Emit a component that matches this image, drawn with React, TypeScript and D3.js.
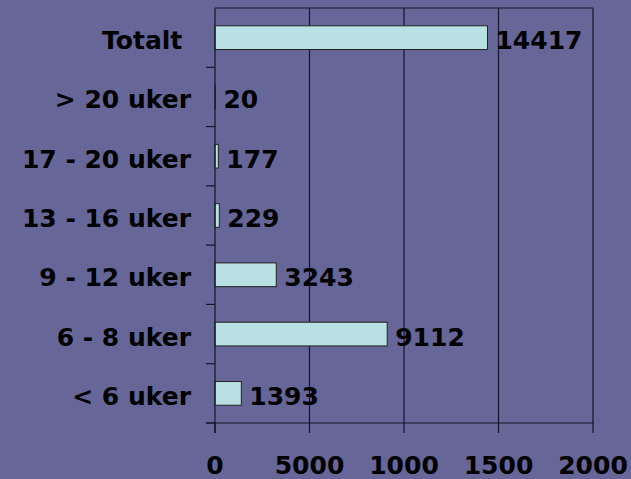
import { useRef, useEffect } from "react";
import * as d3 from "d3";

// categories top to bottom
const categories = ["Totalt ", "> 20 uker", "17 - 20 uker", "13 - 16 uker", "9 - 12 uker", "6 - 8 uker", "< 6 uker"];
const values = [14417, 20, 177, 229, 3243, 9112, 1393];
const xTicks = [0, 5000, 10000, 15000, 20000];
const xTickLabels = ["0", "5000", "1000", "1500", "2000"];

const App = () => {
  const svgRef = useRef<SVGSVGElement>(null);

  useEffect(() => {
    const svg = d3.select(svgRef.current);
    const width = 631;
    const height = 479;
    const margin = { top: 8, right: 38, bottom: 56, left: 215 };
    const innerWidth = width - margin.left - margin.right;
    const innerHeight = height - margin.top - margin.bottom;
    const font = "'DejaVu Sans', Verdana, sans-serif";
    const lineColor = "#15152a";

    svg.selectAll("*").remove();

    svg.append("rect").attr("width", width).attr("height", height).attr("fill", "#666699");

    const g = svg.append("g").attr("transform", `translate(${margin.left},${margin.top})`);

    const xScale = d3.scaleLinear().domain([0, 20000]).range([0, innerWidth]);
    const yScale = d3.scaleBand().domain(categories).range([0, innerHeight]).paddingInner(0.6).paddingOuter(0.3);
    const step = yScale.step();

    // gridlines
    g.selectAll(".grid")
      .data(xTicks.slice(1))
      .enter()
      .append("line")
      .attr("x1", (d) => xScale(d))
      .attr("x2", (d) => xScale(d))
      .attr("y1", 0)
      .attr("y2", innerHeight)
      .attr("stroke", lineColor)
      .attr("stroke-width", 1.2);

    // top border
    g.append("line")
      .attr("x1", 0)
      .attr("x2", innerWidth)
      .attr("y1", 0)
      .attr("y2", 0)
      .attr("stroke", lineColor)
      .attr("stroke-width", 1.2);

    // bars
    g.selectAll(".bar")
      .data(values.map((value, i) => ({ value, label: categories[i] })))
      .enter()
      .append("rect")
      .attr("x", 0)
      .attr("y", (d) => yScale(d.label)!)
      .attr("width", (d) => xScale(d.value))
      .attr("height", yScale.bandwidth())
      .attr("fill", "#b9e0e3")
      .attr("stroke", "#222")
      .attr("stroke-width", 1);

    // value labels
    g.selectAll(".value")
      .data(values.map((value, i) => ({ value, label: categories[i] })))
      .enter()
      .append("text")
      .attr("x", (d) => xScale(d.value) + 8)
      .attr("y", (d) => yScale(d.label)! + yScale.bandwidth() / 2 + 2)
      .attr("dy", "0.38em")
      .attr("font-family", font)
      .attr("font-weight", "bold")
      .attr("font-size", 25)
      .attr("fill", "#000")
      .text((d) => d.value);

    // y axis
    g.append("line")
      .attr("x1", 0)
      .attr("x2", 0)
      .attr("y1", 0)
      .attr("y2", innerHeight + 10)
      .attr("stroke", lineColor)
      .attr("stroke-width", 1.2);

    g.selectAll(".ytick")
      .data(d3.range(1, categories.length + 1))
      .enter()
      .append("line")
      .attr("x1", -9)
      .attr("x2", 0)
      .attr("y1", (d) => d * step)
      .attr("y2", (d) => d * step)
      .attr("stroke", lineColor)
      .attr("stroke-width", 1.2);

    g.selectAll(".ylabel")
      .data(categories)
      .enter()
      .append("text")
      .attr("x", -24)
      .attr("y", (d) => yScale(d)! + yScale.bandwidth() / 2 + 2)
      .attr("dy", "0.38em")
      .attr("text-anchor", "end")
      .attr("font-family", font)
      .attr("font-weight", "bold")
      .attr("font-size", 25)
      .attr("fill", "#000")
      .style("white-space", "pre")
      .text((d) => d);

    // x axis
    g.append("line")
      .attr("x1", -9)
      .attr("x2", innerWidth)
      .attr("y1", innerHeight)
      .attr("y2", innerHeight)
      .attr("stroke", lineColor)
      .attr("stroke-width", 1.2);

    g.selectAll(".xtick")
      .data(xTicks)
      .enter()
      .append("line")
      .attr("x1", (d) => xScale(d))
      .attr("x2", (d) => xScale(d))
      .attr("y1", innerHeight)
      .attr("y2", innerHeight + 10)
      .attr("stroke", lineColor)
      .attr("stroke-width", 1.2);

    g.selectAll(".xlabel")
      .data(xTicks)
      .enter()
      .append("text")
      .attr("x", (d) => xScale(d))
      .attr("y", innerHeight + 51)
      .attr("text-anchor", "middle")
      .attr("font-family", font)
      .attr("font-weight", "bold")
      .attr("font-size", 25)
      .attr("fill", "#000")
      .text((d, i) => xTickLabels[i]);
  }, []);

  return (
    <div style={{ position: "fixed", left: 0, top: 0 }}>
      <svg ref={svgRef} width="631" height="479" style={{ display: "block" }}></svg>
    </div>
  );
};

export default App;
